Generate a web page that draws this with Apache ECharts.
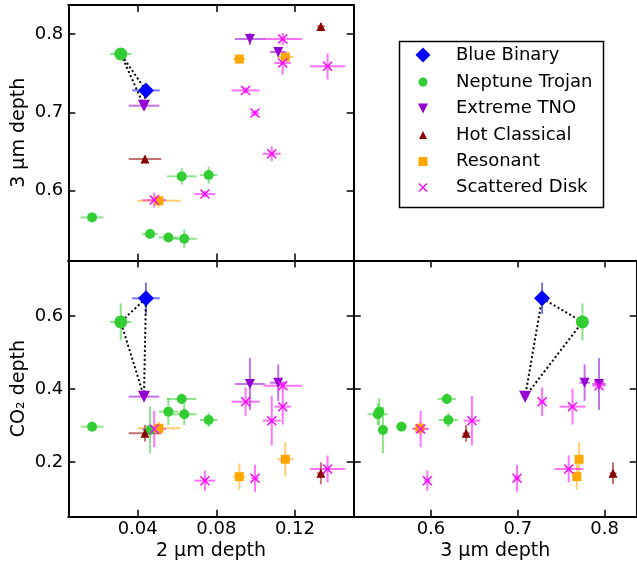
<!DOCTYPE html>
<html><head><meta charset="utf-8">
<script src="https://cdn.jsdelivr.net/npm/echarts@6/dist/echarts.min.js"></script>
<style>html,body{margin:0;padding:0;background:#fff}#c{width:637px;height:565px}</style>
</head><body><div id="c"></div>
<script>
// ---------------- DATA ----------------
const classNames = ['Blue Binary', 'Neptune Trojan', 'Extreme TNO', 'Hot Classical', 'Resonant', 'Scattered Disk'];

// tick labels
const tick2um = [0.04, 0.08, 0.12];
const tick3um = [0.6, 0.7, 0.8];
const tickCO2 = [0.2, 0.4, 0.6];

// Blue Binary
const bbD2 = [0.0442];  const bbD2e = [0.007];
const bbD3 = [0.728];   const bbD3e = [0.004];
const bbCO2 = [0.6485]; const bbCO2e = [0.043];

// Neptune Trojans (first = binary companion)
const ntD2 = [0.0314, 0.0168, 0.0463, 0.0556, 0.0637, 0.0624, 0.0761];
const ntD2e = [0.0055, 0.0058, 0.004, 0.005, 0.0064, 0.0075, 0.0044];
const ntD3 = [0.7745, 0.566, 0.5447, 0.5404, 0.5387, 0.6183, 0.62];
const ntD3e = [0.006, 0.006, 0.004, 0.006, 0.0117, 0.0106, 0.011];
const ntCO2 = [0.5836, 0.2967, 0.2877, 0.3379, 0.3307, 0.3726, 0.315];
const ntCO2e = [0.051, 0.008, 0.064, 0.037, 0.03, 0.015, 0.02];

// Extreme TNOs (first = binary companion)
const etD2 = [0.0432, 0.0971, 0.1115];
const etD2e = [0.0078, 0.0076, 0.0042];
const etD3 = [0.7085, 0.7936, 0.777];
const etD3e = [0.004, 0.0077, 0.006];
const etCO2 = [0.379, 0.4137, 0.4173];
const etCO2e = [0.01, 0.071, 0.05];

// Hot Classicals
const hcD2 = [0.0437, 0.1332];  const hcD2e = [0.0083, 0.002];
const hcD3 = [0.6405, 0.8097];  const hcD3e = [0.004, 0.004];
const hcCO2 = [0.2786, 0.169];  const hcCO2e = [0.023, 0.03];

// Resonant
const reD2 = [0.0917, 0.1151, 0.0508];  const reD2e = [0.0032, 0.0042, 0.011];
const reD3 = [0.768, 0.7706, 0.5872];   const reD3e = [0.004, 0.004, 0.0085];
const reCO2 = [0.1598, 0.2074, 0.2923]; const reCO2e = [0.036, 0.047, 0.018];

// Scattered Disk
const sdD2 = [0.1138, 0.1138, 0.1366, 0.0949, 0.0997, 0.1082, 0.0742, 0.0484];
const sdD2e = [0.0098, 0.0042, 0.0089, 0.0072, 0.002, 0.0046, 0.0053, 0.006];
const sdD3 = [0.7936, 0.763, 0.7587, 0.728, 0.6992, 0.6472, 0.5958, 0.5881];
const sdD3e = [0.0077, 0.015, 0.0166, 0.004, 0.004, 0.0096, 0.004, 0.0096];
const sdCO2 = [0.409, 0.3515, 0.1808, 0.3652, 0.1553, 0.3132, 0.1488, 0.2904];
const sdCO2e = [0.01, 0.049, 0.037, 0.039, 0.037, 0.068, 0.028, 0.05];

// ---------------- STYLE / LAYOUT ----------------
const F = 'DejaVu Sans';
const X_PATH = 'path://M0,1L1,0L5,4L9,0L10,1L6,5L10,9L9,10L5,6L1,10L0,9L4,5Z';
const DOWN_PATH = 'path://M0,0L10,0L5,10Z';

const classes = [
  {name: classNames[0], d2: bbD2, d2e: bbD2e, d3: bbD3, d3e: bbD3e, co2: bbCO2, co2e: bbCO2e,
   color: '#0000ff', symbol: 'diamond', size: 16, big: 16, legSize: 15},
  {name: classNames[1], d2: ntD2, d2e: ntD2e, d3: ntD3, d3e: ntD3e, co2: ntCO2, co2e: ntCO2e,
   color: '#32cd32', symbol: 'circle', size: 10, big: 13, legSize: 9},
  {name: classNames[2], d2: etD2, d2e: etD2e, d3: etD3, d3e: etD3e, co2: etCO2, co2e: etCO2e,
   color: '#9400d3', symbol: DOWN_PATH, size: 10, big: 12, legSize: 10},
  {name: classNames[3], d2: hcD2, d2e: hcD2e, d3: hcD3, d3e: hcD3e, co2: hcCO2, co2e: hcCO2e,
   color: '#8b0000', symbol: 'triangle', size: 9, big: 9, legSize: 8},
  {name: classNames[4], d2: reD2, d2e: reD2e, d3: reD3, d3e: reD3e, co2: reCO2, co2e: reCO2e,
   color: '#ffa500', symbol: 'rect', size: 9, big: 9, legSize: 9},
  {name: classNames[5], d2: sdD2, d2e: sdD2e, d3: sdD3, d3e: sdD3e, co2: sdCO2, co2e: sdCO2e,
   color: '#ff00ff', symbol: X_PATH, size: 10, big: 10, legSize: 9}
];

const grids = [
  {left: 68.3, top: 5, width: 285.4, height: 255.5},
  {left: 68.3, top: 260.5, width: 285.4, height: 256.2},
  {left: 353.7, top: 260.5, width: 283, height: 256.2}
];
const range = {d2: [0.0047, 0.1499], d3: [0.511, 0.837], co2: [0.05, 0.752]};
const ticks = {d2: tick2um, d3: tick3um, co2: tickCO2};
const panels = [
  {x: 'd2', y: 'd3', xLab: false, yLab: true, xName: '', yName: '3 µm depth'},
  {x: 'd2', y: 'co2', xLab: true, yLab: true, xName: '2 µm depth', yName: 'CO\u2082 depth'},
  {x: 'd3', y: 'co2', xLab: true, yLab: false, xName: '3 µm depth', yName: ''}
];

function axis(g, isX, pos, key, showLabel, name) {
  return {
    type: 'value', gridIndex: g, position: pos,
    min: range[key][0], max: range[key][1],
    splitLine: {show: false},
    axisLine: {show: true, onZero: false, lineStyle: {color: '#000', width: 2}},
    axisTick: {show: true, inside: true, length: 7, lineStyle: {color: '#000', width: 1.5},
               customValues: ticks[key]},
    axisLabel: {show: showLabel, customValues: ticks[key], margin: isX ? 4 : 5,
                fontFamily: F, fontSize: 18, color: '#000',
                formatter: v => key === 'd2' ? v.toFixed(2) : v.toFixed(1)},
    name: name || '', nameLocation: 'middle', nameGap: isX ? 25 : 40,
    nameTextStyle: {fontFamily: F, fontSize: 19, color: '#000'}
  };
}

const xAxes = [], yAxes = [];
panels.forEach((p, g) => {
  xAxes.push(axis(g, true, 'bottom', p.x, p.xLab, p.xName));
  xAxes.push(axis(g, true, 'top', p.x, false, ''));
  yAxes.push(axis(g, false, 'left', p.y, p.yLab, p.yName));
  yAxes.push(axis(g, false, 'right', p.y, false, ''));
});

const scatterSeries = [], errSeries = [], lineSeries = [];
panels.forEach((p, g) => {
  classes.forEach(c => {
    const data = c[p.x].map((xv, i) => [xv, c[p.y][i], c[p.x + 'e'][i], c[p.y + 'e'][i]]);
    scatterSeries.push({
      type: 'scatter', name: c.name, xAxisIndex: 2 * g, yAxisIndex: 2 * g,
      data: data, symbol: c.symbol,
      symbolSize: (v, prm) => prm.dataIndex === 0 ? c.big : c.size,
      itemStyle: {color: c.color, opacity: 1}, z: 5, silent: true,
      emphasis: {disabled: true}
    });
    errSeries.push({
      type: 'custom', name: c.name + ' err', xAxisIndex: 2 * g, yAxisIndex: 2 * g,
      data: data, z: 2, silent: true, encode: {x: 0, y: 1},
      renderItem: (params, api) => {
        const x = api.value(0), y = api.value(1), xe = api.value(2), ye = api.value(3);
        const a = api.coord([x - xe, y]), b = api.coord([x + xe, y]);
        const c1 = api.coord([x, y - ye]), d = api.coord([x, y + ye]);
        const style = {stroke: c.color, lineWidth: 2, opacity: 0.55};
        return {type: 'group', children: [
          {type: 'line', shape: {x1: a[0], y1: a[1], x2: b[0], y2: b[1]}, style: style},
          {type: 'line', shape: {x1: c1[0], y1: c1[1], x2: d[0], y2: d[1]}, style: style}
        ]};
      }
    });
  });
  // dotted triangle connecting the binary system members
  const bb = classes[0], nt = classes[1], et = classes[2];
  lineSeries.push({
    type: 'line', xAxisIndex: 2 * g, yAxisIndex: 2 * g, symbol: 'none', silent: true, z: 3,
    data: [[bb[p.x][0], bb[p.y][0]], [nt[p.x][0], nt[p.y][0]], [et[p.x][0], et[p.y][0]], [bb[p.x][0], bb[p.y][0]]],
    lineStyle: {color: '#000', width: 2, type: [2, 2.5]}
  });
});

const legendRows = [55, 82, 108.5, 135, 161.5, 187.5];
const legends = classes.map((c, i) => ({
  data: [{name: c.name, icon: c.symbol}],
  left: 423 - c.legSize / 2, top: legendRows[i] - 10,
  orient: 'vertical', padding: 0, selectedMode: false,
  itemWidth: c.legSize, itemHeight: c.legSize,
  textStyle: {fontFamily: F, fontSize: 18, color: '#000', lineHeight: 20,
              padding: [0, 0, 0, 456 - (423 + c.legSize / 2 + 5)]}
}));

const chart = echarts.init(document.getElementById('c'), null, {renderer: 'canvas'});
chart.setOption({
  animation: false,
  backgroundColor: '#fff',
  grid: grids.map(gr => Object.assign({containLabel: false, outerBoundsMode: 'none'}, gr)),
  xAxis: xAxes, yAxis: yAxes,
  legend: legends,
  graphic: [{type: 'rect', left: 397, top: 39, shape: {width: 204, height: 166},
             style: {fill: null, stroke: '#000', lineWidth: 1.5}, z: 10, silent: true}],
  series: scatterSeries.concat(errSeries, lineSeries)
});
</script></body></html>
